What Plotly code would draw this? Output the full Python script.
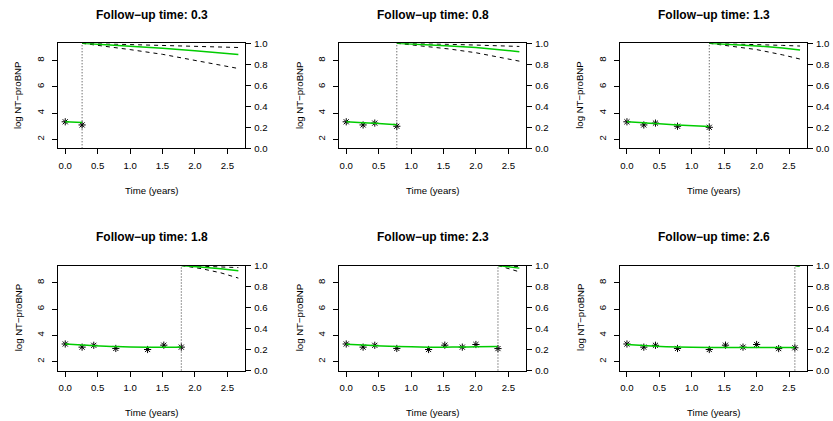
import plotly.graph_objects as go

# ---------------- data ----------------
obs_times = [0.0, 0.26, 0.44, 0.78, 1.27, 1.52, 1.79, 2.0, 2.34, 2.59]
obs_values = [3.34, 3.10, 3.24, 3.00, 2.92, 3.25, 3.10, 3.30, 2.99, 3.05]

followup_times = [0.26, 0.78, 1.27, 1.79, 2.34, 2.59]
followup_labels = ["0.3", "0.8", "1.3", "1.8", "2.3", "2.6"]

# fitted longitudinal trajectory at the observation times up to each follow-up time
fitted = [
    [3.34, 3.28],
    [3.34, 3.27, 3.22, 3.12],
    [3.34, 3.26, 3.20, 3.10, 2.98],
    [3.33, 3.26, 3.21, 3.14, 3.09, 3.09, 3.12],
    [3.32, 3.26, 3.21, 3.15, 3.10, 3.10, 3.11, 3.13, 3.15],
    [3.30, 3.22, 3.17, 3.11, 3.07, 3.07, 3.07, 3.07, 3.07, 3.08],
]

# conditional survival predictions (times, mean, lower, upper)
surv_times = [
    [0.26, 0.6, 1.0, 1.5, 2.0, 2.67],
    [0.78, 1.2, 1.6, 2.0, 2.4, 2.67],
    [1.27, 1.6, 2.0, 2.4, 2.67],
    [1.79, 2.1, 2.4, 2.67],
    [2.34, 2.5, 2.67],
    [2.59, 2.67],
]
surv_mean = [
    [1.0, 0.99, 0.972, 0.952, 0.93, 0.893],
    [1.0, 0.99, 0.975, 0.96, 0.94, 0.92],
    [1.0, 0.99, 0.975, 0.955, 0.936],
    [1.0, 0.985, 0.968, 0.949],
    [1.0, 0.988, 0.975],
    [1.0, 0.996],
]
surv_lower = [
    [1.0, 0.975, 0.94, 0.895, 0.84, 0.76],
    [1.0, 0.975, 0.945, 0.91, 0.865, 0.83],
    [1.0, 0.975, 0.94, 0.89, 0.85],
    [1.0, 0.97, 0.93, 0.88],
    [1.0, 0.97, 0.94],
    [1.0, 0.99],
]
surv_upper = [
    [1.0, 0.995, 0.988, 0.978, 0.97, 0.96],
    [1.0, 0.997, 0.99, 0.983, 0.975, 0.97],
    [1.0, 0.996, 0.99, 0.98, 0.974],
    [1.0, 0.995, 0.988, 0.98],
    [1.0, 0.995, 0.99],
    [1.0, 1.0],
]

x_ticks = [0.0, 0.5, 1.0, 1.5, 2.0, 2.5]
y_ticks = [2, 4, 6, 8]
s_ticks = [0.0, 0.2, 0.4, 0.6, 0.8, 1.0]

# ---------------- layout geometry ----------------
W, H = 833, 421
FONT = "Liberation Sans, Arial, Helvetica, sans-serif"
GREEN = "#00CC00"
col_left = [58.3, 339.3, 620.0]
box_w = 187.0
row_top = [43.3, 265.5]
box_h = 105.0

fig = go.Figure()
layout = dict(
    width=W, height=H,
    margin=dict(l=0, r=0, t=0, b=0, autoexpand=False),
    paper_bgcolor="white", plot_bgcolor="white",
    showlegend=False,
    font=dict(family=FONT, size=10, color="black"),
)
annotations = []
shapes = []

for i in range(6):
    r, c = divmod(i, 3)
    xl = col_left[c]
    xr = xl + box_w
    yt = row_top[r]
    yb = yt + box_h
    xd = [xl / W, xr / W]
    yd = [1 - yb / H, 1 - yt / H]
    n = i + 1
    ns = 7 + i
    xa = "x" if n == 1 else f"x{n}"
    ya = "y" if n == 1 else f"y{n}"
    ya2 = f"y{ns}"

    t0 = followup_times[i]
    k = sum(1 for t in obs_times if t <= t0 + 1e-9)

    # observed points
    fig.add_trace(go.Scatter(
        x=obs_times[:k], y=obs_values[:k], mode="markers",
        marker=dict(symbol="asterisk-open", size=6, color="black",
                    line=dict(color="black", width=1)),
        xaxis=xa, yaxis=ya, hoverinfo="skip"))
    # fitted trajectory
    fig.add_trace(go.Scatter(
        x=obs_times[:k], y=fitted[i], mode="lines",
        line=dict(color=GREEN, width=1.5, shape="spline"),
        xaxis=xa, yaxis=ya, hoverinfo="skip"))
    # survival curves on the secondary axis
    fig.add_trace(go.Scatter(
        x=surv_times[i], y=surv_lower[i], mode="lines",
        line=dict(color="black", width=1, dash="4px,4px"),
        xaxis=xa, yaxis=ya2, hoverinfo="skip"))
    fig.add_trace(go.Scatter(
        x=surv_times[i], y=surv_upper[i], mode="lines",
        line=dict(color="black", width=1, dash="4px,4px"),
        xaxis=xa, yaxis=ya2, hoverinfo="skip"))
    fig.add_trace(go.Scatter(
        x=surv_times[i], y=surv_mean[i], mode="lines",
        line=dict(color=GREEN, width=1.5),
        xaxis=xa, yaxis=ya2, hoverinfo="skip"))

    axis_common = dict(
        showgrid=False, zeroline=False, showline=True, linecolor="black",
        linewidth=1, ticks="outside", ticklen=5, tickcolor="black",
        tickfont=dict(family=FONT, size=9.6, color="black"),
    )
    layout["xaxis" if n == 1 else f"xaxis{n}"] = dict(
        axis_common, domain=xd, anchor=ya, range=[-0.107, 2.777],
        tickvals=x_ticks, ticktext=[f"{v:.1f}" for v in x_ticks],
        mirror=True, fixedrange=True, ticklabelstandoff=3)
    layout["yaxis" if n == 1 else f"yaxis{n}"] = dict(
        axis_common, domain=yd, anchor=xa, range=[1.32, 9.32],
        tickvals=y_ticks, ticktext=[str(v) for v in y_ticks],
        tickangle=-90, mirror=True, fixedrange=True, ticklabelstandoff=4)
    layout[f"yaxis{ns}"] = dict(
        axis_common, domain=yd, anchor=xa, overlaying=ya, side="right",
        range=[0, 1], tickvals=s_ticks,
        ticktext=[f"{v:.1f}" for v in s_ticks], showline=False,
        fixedrange=True, ticklabelstandoff=1)

    # dotted vertical line at follow-up time
    shapes.append(dict(type="line", xref=xa, yref=f"{ya} domain",
                       x0=t0, x1=t0, y0=0, y1=1,
                       line=dict(color="#333333", width=1, dash="1px,2px")))

    cx = (xl + xr) / 2
    # panel title
    annotations.append(dict(
        text=f"<b>Follow\u2212up time: {followup_labels[i]}</b>",
        x=cx / W, y=1 - (yt - 28.3) / H, xref="paper", yref="paper",
        xanchor="center", yanchor="middle", showarrow=False,
        font=dict(family=FONT, size=12, color="black")))
    # x title
    annotations.append(dict(
        text="Time (years)", x=cx / W, y=1 - (yb + 42) / H,
        xref="paper", yref="paper", xanchor="center", yanchor="middle",
        showarrow=False, font=dict(family=FONT, size=9.6, color="black")))
    # y title
    annotations.append(dict(
        text="log NT\u2212proBNP", x=(xl - 40) / W, y=1 - (yt + box_h / 2) / H,
        xref="paper", yref="paper", xanchor="center", yanchor="middle",
        textangle=-90, showarrow=False,
        font=dict(family=FONT, size=9.6, color="black")))

layout["annotations"] = annotations
layout["shapes"] = shapes
fig.update_layout(**layout)
fig.write_html("out.html")
